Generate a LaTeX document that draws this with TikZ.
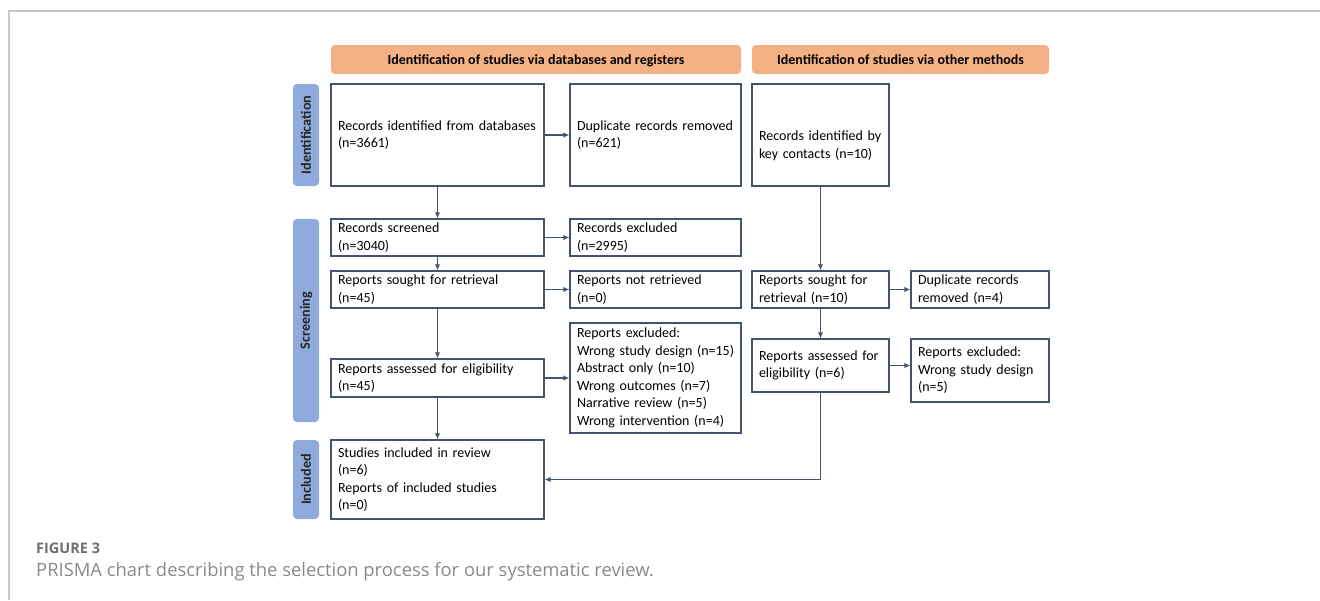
\documentclass[tikz,border=0pt]{standalone}
\usepackage{fontspec}
\setmainfont{Carlito}
\newfontfamily\capfont{Open Sans}
\usetikzlibrary{arrows.meta}
\definecolor{edge}{HTML}{44546A}
\definecolor{hdr}{HTML}{F4B183}
\definecolor{side}{HTML}{8FAADC}
\definecolor{framegray}{HTML}{C8C8C8}
\definecolor{capgray}{HTML}{8A8A8A}
\definecolor{figgray}{HTML}{6E6E6E}
\begin{document}
\begin{tikzpicture}[x=1pt,y=-1pt,
  box/.style={draw=edge, line width=1.3pt, align=left, inner xsep=7pt, inner ysep=2pt,
    font=\fontsize{14}{17.5}\selectfont, text=black},
  hdrbox/.style={fill=hdr, rounded corners=4pt, minimum height=29pt, text height=10pt, text depth=1pt,
    font=\bfseries\fontsize{14}{16}\selectfont, inner sep=0pt, text=black},
  sidebox/.style={fill=side, rounded corners=4pt, rotate=90, minimum height=26pt,
    font=\bfseries\fontsize{14.2}{16}\selectfont, inner sep=0pt, text=black!85},
  arr/.style={draw=edge, line width=1.3pt, -{Latex[length=6pt,width=5.5pt]}}]
\useasboundingbox (0,0) rectangle (1320,600);
% frame
\coordinate (fr1) at (1320,11);
\coordinate (fr2) at (9,11);
\coordinate (fr3) at (9,600);
\draw[framegray, line width=1.3pt] (fr1) -- (fr2) -- (fr3);
% headers
\node[hdrbox, minimum width=410pt] (h1) at (536,59.5) {Identification of studies via databases and registers};
\node[hdrbox, minimum width=297pt] (h2) at (900.5,59.5) {Identification of studies via other methods};
% side bars
\node[sidebox, minimum width=102pt] (s1) at (306,135) {Identification};
\node[sidebox, minimum width=203pt] (s2) at (306,320.5) {Screening};
\node[sidebox, minimum width=79pt] (s3) at (306,479.5) {Included};
% boxes
\node[box, text width=199pt, minimum height=102pt] (A) at (437.5,135) {Records identified from databases\\(n=3661)};
\node[box, text width=157pt, minimum height=102pt] (B) at (655.5,135) {Duplicate records removed\\(n=621)};
\node[box, text width=123pt, minimum height=102pt] (C) at (820.5,135) {};
\node[align=left, text width=123pt, inner xsep=7pt, font=\fontsize{14}{17.5}\selectfont] (Ct) at (820.5,146) {Records identified by\\key contacts (n=10)};
\node[box, text width=199pt, minimum height=37pt] (D) at (437.5,237.5) {Records screened\\(n=3040)};
\node[box, text width=157pt, minimum height=37pt] (E) at (655.5,237.5) {Records excluded\\(n=2995)};
\node[box, text width=199pt, minimum height=37pt] (F) at (437.5,289.5) {Reports sought for retrieval\\(n=45)};
\node[box, text width=157pt, minimum height=37pt] (G) at (655.5,289.5) {Reports not retrieved\\(n=0)};
\node[box, text width=123pt, minimum height=37pt] (H) at (820.5,289.5) {Reports sought for\\retrieval (n=10)};
\node[box, text width=124pt, minimum height=37pt] (I) at (980,289.5) {Duplicate records\\removed (n=4)};
\node[box, text width=199pt, minimum height=38pt] (J) at (437.5,378) {Reports assessed for eligibility\\(n=45)};
\node[box, text width=157pt, minimum height=110pt] (K) at (655.5,378) {Reports excluded:\\\mbox{Wrong study design (n=15)}\\Abstract only (n=10)\\Wrong outcomes (n=7)\\Narrative review (n=5)\\\mbox{Wrong intervention (n=4)}};
\node[box, text width=123pt, minimum height=53pt] (L) at (820.5,365.5) {Reports assessed for\\eligibility (n=6)};
\node[box, text width=124pt, minimum height=63pt] (M) at (980,370.5) {Reports excluded:\\Wrong study design\\(n=5)};
\node[box, text width=199pt, minimum height=79pt] (N) at (437.5,479.5) {Studies included in review\\(n=6)\\Reports of included studies\\(n=0)};
% arrows
\draw[arr] (A) -- (B);
\draw[arr] (A) -- (D);
\draw[arr] (D) -- (E);
\draw[arr] (D) -- (F);
\draw[arr] (F) -- (G);
\draw[arr] (F) -- (J);
\draw[arr] (J) -- (K);
\draw[arr] (J) -- (N);
\draw[arr] (C) -- (H);
\draw[arr] (H) -- (I);
\draw[arr] (H) -- (L);
\draw[arr] (L.east) -- (L.east -| M.west);
\draw[arr] (L.south) |- (N.east);
% caption
\node[anchor=base west, inner sep=0pt, font=\capfont\bfseries\fontsize{14.5}{16}\selectfont, text=figgray] (cap1) at (36,553) {FIGURE 3};
\node[anchor=base west, inner sep=0pt, font=\capfont\fontsize{18.4}{20}\selectfont, text=capgray] (cap2) at (36,576) {PRISMA chart describing the selection process for our systematic review.};
\end{tikzpicture}
\end{document}
